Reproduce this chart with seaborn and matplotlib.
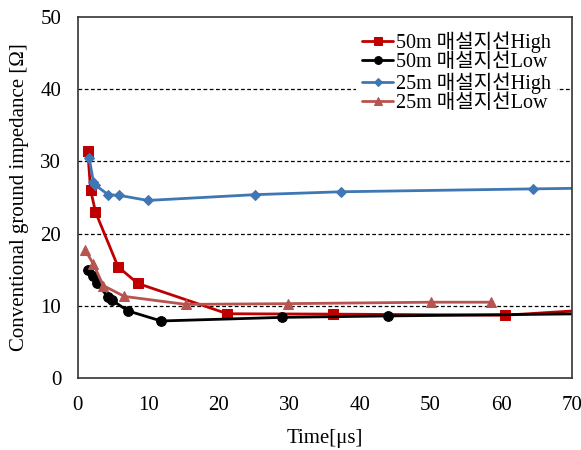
import numpy as np
import pandas as pd
import seaborn as sns
import matplotlib
matplotlib.use('Agg')
import matplotlib.pyplot as plt

# values (time in us, impedance in ohm)
t_50_high = [1.4, 1.8, 2.5, 5.7, 8.5, 21.2, 36.1, 60.6, 72.0]
z_50_high = [31.5, 26.1, 23.0, 15.4, 13.1, 8.9, 8.85, 8.7, 9.4]

t_50_low = [1.4, 2.1, 2.7, 4.3, 4.8, 7.1, 11.8, 29.0, 44.0, 72.0]
z_50_low = [14.9, 14.1, 13.1, 11.2, 10.8, 9.3, 7.9, 8.4, 8.6, 8.9]

t_25_high = [1.6, 2.2, 2.5, 4.3, 5.9, 9.9, 25.1, 37.3, 64.5, 72.0]
z_25_high = [30.5, 27.2, 26.7, 25.4, 25.3, 24.6, 25.4, 25.8, 26.2, 26.3]

t_25_low = [1.0, 2.2, 3.6, 6.6, 15.3, 29.8, 50.0, 58.5]
z_25_low = [17.8, 15.8, 12.8, 11.3, 10.2, 10.3, 10.5, 10.5]

labels = ['50m 매설지선High', '50m 매설지선Low', '25m 매설지선High', '25m 매설지선Low']
x_ticks = [0, 10, 20, 30, 40, 50, 60, 70]
y_ticks = [0, 10, 20, 30, 40, 50]

sns.set_style('white')
plt.rcParams['font.family'] = ['Liberation Serif', 'Noto Sans CJK KR', 'DejaVu Sans']
plt.rcParams['text.color'] = 'black'
plt.rcParams['axes.labelcolor'] = 'black'
plt.rcParams['xtick.color'] = 'black'
plt.rcParams['ytick.color'] = 'black'

fig = plt.figure(figsize=(5.81, 4.5), dpi=100)
ax = fig.add_axes([0.134, 0.16, 0.850, 0.802])

series = [
    (t_50_high, z_50_high, '#C00000', 's', 7.5),
    (t_50_low, z_50_low, 'black', 'o', 7),
    (t_25_high, z_25_high, '#3F76B4', 'D', 5),
    (t_25_low, z_25_low, '#B85450', '^', 7),
]

for (t, z, col, mk, ms), lab in zip(series, labels):
    df = pd.DataFrame({'t': t, 'z': z})
    sns.lineplot(data=df, x='t', y='z', ax=ax, color=col, marker=mk,
                 markersize=ms, markeredgecolor=col, linewidth=2.0,
                 estimator=None, sort=False, label=lab)

ax.set_xlim(0, 70)
ax.set_ylim(0, 50)
ax.set_xticks(x_ticks)
ax.set_yticks(y_ticks)
ax.tick_params(direction='in', labelsize=15, length=4, color='#555555')
ax.tick_params(axis='y', pad=12)
ax.tick_params(axis='x', pad=13)
for s in ax.spines.values():
    s.set_color('#333333')
    s.set_linewidth(1.2)

for yv in y_ticks[1:-1]:
    ax.axhline(yv, color='black', linestyle=(0, (3, 2)), linewidth=0.9, zorder=0)

ax.set_xlabel('Time[μs]', fontsize=15, labelpad=10)
ax.set_ylabel('Conventional ground impedance [Ω]', fontsize=15, labelpad=8)

leg = ax.legend(loc='upper right', bbox_to_anchor=(0.99, 1.005), fontsize=14.5,
                frameon=True, fancybox=False, framealpha=1, edgecolor='white',
                handlelength=1.5, handletextpad=0.15, labelspacing=0.0,
                borderpad=0.3, markerscale=0.8)
leg.get_frame().set_linewidth(0)

fig.savefig('out.png', dpi=100)
